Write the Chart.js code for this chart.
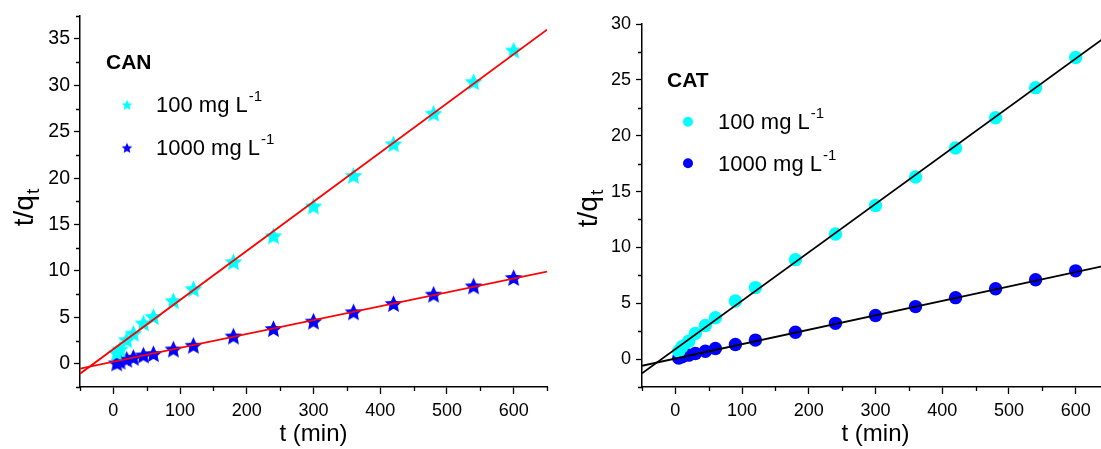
<!DOCTYPE html>
<html>
<head>
<meta charset="utf-8">
<script src="https://cdn.jsdelivr.net/npm/chart.js@4.4.1/dist/chart.umd.min.js"></script>
<style>
  html, body { margin: 0; padding: 0; background: #fff; overflow: hidden; width: 1101px; height: 449px; }
  .panel { position: absolute; top: 0; height: 449px; width: 560px; }
  #can { left: 0; }
  #cat { left: 560px; }
</style>
</head>
<body>
<div class="panel" id="can"><canvas id="canChart"></canvas></div>
<div class="panel" id="cat"><canvas id="catChart"></canvas></div>
<script>
// sampling times (min)
const times = [5, 10, 20, 30, 45, 60, 90, 120, 180, 240, 300, 360, 420, 480, 540, 600];

// CAN, t/qt
const can100 = [1.2, 1.6, 2.6, 3.3, 4.4, 5.1, 6.8, 8.1, 11.0, 13.8, 17.0, 20.3, 23.7, 27.0, 30.4, 33.8];
const can1000 = [0.1, 0.3, 0.5, 0.7, 0.95, 1.1, 1.6, 2.0, 3.0, 3.8, 4.6, 5.6, 6.5, 7.5, 8.4, 9.3];

// CAT, t/qt
const cat100 = [0.7, 1.1, 1.6, 2.3, 3.0, 3.7, 5.2, 6.4, 8.9, 11.2, 13.75, 16.3, 18.9, 21.6, 24.3, 27.0];
const cat1000 = [0.1, 0.2, 0.35, 0.5, 0.7, 0.95, 1.3, 1.7, 2.4, 3.2, 3.9, 4.7, 5.5, 6.3, 7.1, 7.9];

// linear fits, read at both ends of the x axis
const fitX = [-50, 650];
const canFit100 = [-1.07, 36.0];
const canFit1000 = [-0.53, 9.94];
const catFit100 = [-1.27, 29.07];
const catFit1000 = [-0.6, 8.44];

const xTicks = [0, 100, 200, 300, 400, 500, 600];
const canYTicks = [0, 5, 10, 15, 20, 25, 30, 35];
const catYTicks = [0, 5, 10, 15, 20, 25, 30];

const seriesLabels = ['100 mg L', '1000 mg L'];

const FONT = '"Liberation Sans", Arial, sans-serif';
const CYAN = '#00FFFF';
const BLUE = '#0000FF';

const toPoints = (xs, ys) => xs.map((x, i) => ({ x, y: ys[i] }));

function makeStar(R, color) {
    const size = Math.ceil(R * 2);
    const c = document.createElement('canvas');
    c.width = size;
    c.height = size;
    const g = c.getContext('2d');
    const r = R * 0.47;
    g.beginPath();
    for (let i = 0; i < 10; i++) {
        const rad = i % 2 ? r : R;
        const a = -Math.PI / 2 + i * Math.PI / 5;
        g.lineTo(size / 2 + rad * Math.cos(a), size / 2 + R * 0.1 + rad * Math.sin(a));
    }
    g.closePath();
    g.fillStyle = color;
    g.fill();
    return c;
}

// short ticks between the labelled ones
const minorTicks = {
    id: 'minorTicks',
    afterDraw(chart, args, opts) {
        const { ctx } = chart;
        const { x, y } = chart.scales;
        ctx.save();
        ctx.strokeStyle = '#000';
        ctx.lineWidth = 1.3;
        ctx.beginPath();
        for (let v = x.min; v <= x.max + 1e-6; v += 50) {
            if (xTicks.includes(v)) continue;
            const px = Math.round(x.getPixelForValue(v)) + 0.5;
            ctx.moveTo(px, x.top);
            ctx.lineTo(px, x.top + 4);
        }
        for (let v = y.min; v <= y.max + 1e-6; v += 2.5) {
            if (opts.yTicks.includes(v)) continue;
            const py = Math.round(y.getPixelForValue(v)) + 0.5;
            ctx.moveTo(y.right, py);
            ctx.lineTo(y.right - 4, py);
        }
        ctx.stroke();
        ctx.restore();
    }
};

// y title with subscript, and the in-plot legend
const annotations = {
    id: 'annotations',
    afterDraw(chart, args, opts) {
        const { ctx, chartArea } = chart;
        ctx.save();
        ctx.fillStyle = '#000';

        // y axis title t/q_t
        ctx.save();
        ctx.translate(opts.yTitleX, opts.yTitleY);
        ctx.rotate(-Math.PI / 2);
        ctx.font = `28px ${FONT}`;
        const w1 = ctx.measureText('t/q').width;
        ctx.font = `19px ${FONT}`;
        const w2 = ctx.measureText('t').width;
        const start = -(w1 + w2) / 2;
        ctx.font = `28px ${FONT}`;
        ctx.textBaseline = 'alphabetic';
        ctx.fillText('t/q', start, 0);
        ctx.font = `19px ${FONT}`;
        ctx.fillText('t', start + w1 + 1, 6);
        ctx.restore();

        const L = chartArea.left;
        const T = chartArea.top;
        ctx.font = `bold 21px ${FONT}`;
        ctx.fillText(opts.title, L + opts.titleDx, T + opts.titleDy);

        opts.entries.forEach((e, i) => {
            const cy = T + opts.markerDy[i];
            const mx = L + opts.markerDx;
            if (opts.marker === 'star') {
                const img = makeStar(5.6, e.color);
                ctx.drawImage(img, mx - img.width / 2, cy - img.height / 2);
            } else {
                ctx.beginPath();
                ctx.arc(mx, cy, 5, 0, Math.PI * 2);
                ctx.fillStyle = e.color;
                ctx.fill();
                ctx.fillStyle = '#000';
            }
            const base = T + opts.textDy[i];
            const tx = L + opts.textDx;
            ctx.font = `22px ${FONT}`;
            ctx.fillText(e.label, tx, base);
            const w = ctx.measureText(e.label).width;
            ctx.font = `15px ${FONT}`;
            ctx.fillText('-1', tx + w + 1, base - 11);
        });
        ctx.restore();
    }
};

function buildChart(canvasId, cfg) {
    const pointStyle = (color) => cfg.marker === 'star' ? makeStar(9.3, color) : 'circle';
    return new Chart(document.getElementById(canvasId), {
        type: 'scatter',
        data: {
            datasets: [
                {
                    data: toPoints(fitX, cfg.fit100), showLine: true, pointRadius: 0,
                    borderColor: cfg.lineColor, borderWidth: 1.8, order: 0
                },
                {
                    data: toPoints(fitX, cfg.fit1000), showLine: true, pointRadius: 0,
                    borderColor: cfg.lineColor, borderWidth: 1.8, order: 0
                },
                {
                    data: toPoints(times, cfg.y100), pointStyle: pointStyle(CYAN),
                    pointRadius: 6.7, pointBorderWidth: 0,
                    backgroundColor: CYAN, borderColor: CYAN, order: 1
                },
                {
                    data: toPoints(times, cfg.y1000), pointStyle: pointStyle(BLUE),
                    pointRadius: 6.7, pointBorderWidth: 0,
                    backgroundColor: BLUE, borderColor: BLUE, order: 1
                }
            ]
        },
        options: {
            responsive: true,
            maintainAspectRatio: false,
            animation: false,
            layout: { padding: { top: cfg.padTop, right: cfg.padRight, bottom: 0, left: 0 } },
            plugins: {
                legend: { display: false },
                tooltip: { enabled: false },
                minorTicks: { yTicks: cfg.yTicks },
                annotations: cfg.annot
            },
            scales: {
                x: {
                    type: 'linear',
                    min: -50,
                    max: 650,
                    afterFit: (s) => { s.height = 62; },
                    afterBuildTicks: (s) => { s.ticks = xTicks.map(v => ({ value: v })); },
                    border: { display: true, color: '#000', width: 1.5 },
                    grid: { drawOnChartArea: false, color: '#000', tickLength: 7, tickWidth: 1.3 },
                    ticks: { color: '#000', padding: 6, maxRotation: 0, font: { family: FONT, size: 18 } },
                    title: { display: true, text: 't (min)', color: '#000', padding: 0, font: { family: FONT, size: 24 } }
                },
                y: {
                    type: 'linear',
                    min: -2.5,
                    max: cfg.yMax,
                    afterFit: (s) => { s.width = cfg.yWidth; },
                    afterBuildTicks: (s) => { s.ticks = cfg.yTicks.map(v => ({ value: v })); },
                    border: { display: true, color: '#000', width: 1.5 },
                    grid: { drawOnChartArea: false, color: '#000', tickLength: 6, tickWidth: 1.3 },
                    ticks: { color: '#000', padding: cfg.yPad, font: { family: FONT, size: cfg.yFont } }
                }
            }
        },
        plugins: [minorTicks, annotations]
    });
}

buildChart('canChart', {
    marker: 'star',
    lineColor: '#FF0000',
    y100: can100, y1000: can1000,
    fit100: canFit100, fit1000: canFit1000,
    yTicks: canYTicks, yMax: 37.5,
    padTop: 14, padRight: 13, yWidth: 80, yPad: 4, yFont: 19.5,
    annot: {
        title: 'CAN', yTitleX: 33, yTitleY: 208,
        titleDx: 26, titleDy: 53,
        marker: 'star', markerDx: 47, markerDy: [89, 132],
        textDx: 76, textDy: [96, 139],
        entries: [
            { label: seriesLabels[0], color: CYAN },
            { label: seriesLabels[1], color: BLUE }
        ]
    }
});

buildChart('catChart', {
    marker: 'circle',
    lineColor: '#000000',
    y100: cat100, y1000: cat1000,
    fit100: catFit100, fit1000: catFit1000,
    yTicks: catYTicks, yMax: 30,
    padTop: 24, padRight: 11, yWidth: 82, yPad: 5, yFont: 18,
    annot: {
        title: 'CAT', yTitleX: 37, yTitleY: 209,
        titleDx: 25, titleDy: 63,
        marker: 'circle', markerDx: 46, markerDy: [97.7, 139.3],
        textDx: 76, textDy: [105, 147],
        entries: [
            { label: seriesLabels[0], color: CYAN },
            { label: seriesLabels[1], color: BLUE }
        ]
    }
});
</script>
</body>
</html>
